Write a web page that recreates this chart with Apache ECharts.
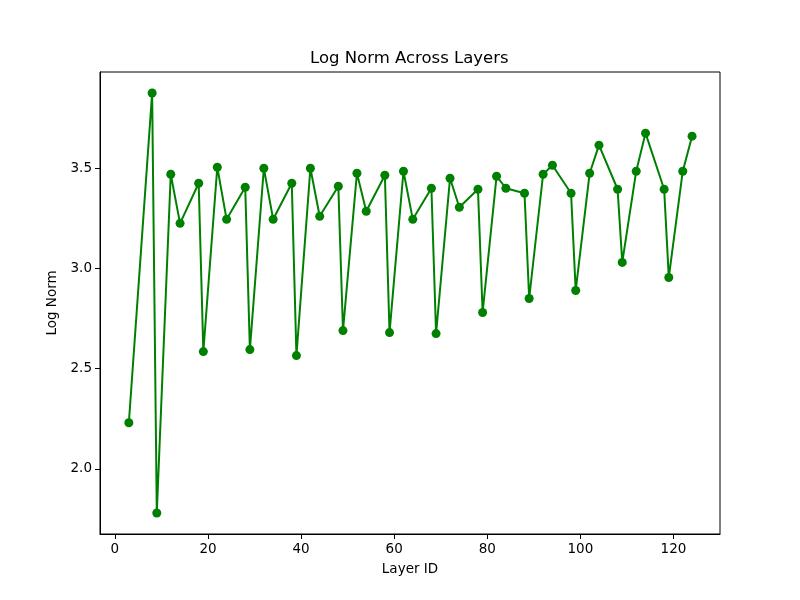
<!DOCTYPE html>
<html>
<head>
<meta charset="utf-8">
<script src="https://cdn.jsdelivr.net/npm/echarts@6/dist/echarts.min.js"></script>
<style>
  html, body { margin: 0; padding: 0; background: #fff; }
  #main { width: 800px; height: 600px; }
</style>
</head>
<body>
<div id="main"></div>
<script>
// layer ids and their log norm
const layerIds = [3, 8, 9, 12, 14, 18, 19, 22, 24, 28, 29, 32, 34, 38, 39, 42, 44, 48, 49,
  52, 54, 58, 59, 62, 64, 68, 69, 72, 74, 78, 79, 82, 84, 88, 89, 92, 94, 98, 99,
  102, 104, 108, 109, 112, 114, 118, 119, 122, 124];
const logNorms = [2.23, 3.875, 1.78, 3.47, 3.225, 3.425, 2.585, 3.505, 3.245, 3.405, 2.595,
  3.5, 3.245, 3.425, 2.565, 3.5, 3.26, 3.41, 2.69, 3.475, 3.285, 3.465, 2.68, 3.485, 3.245,
  3.4, 2.675, 3.45, 3.305, 3.395, 2.78, 3.46, 3.4, 3.375, 2.85, 3.47, 3.515, 3.375, 2.89,
  3.475, 3.615, 3.395, 3.03, 3.485, 3.675, 3.395, 2.955, 3.485, 3.66];
const xTicks = [0, 20, 40, 60, 80, 100, 120];
const yTicks = [2.0, 2.5, 3.0, 3.5];

const font = 'DejaVu Sans';
const chart = echarts.init(document.getElementById('main'));

const points = layerIds.map((id, i) => [id, logNorms[i]]);

const option = {
  animation: false,
  backgroundColor: '#fff',
  title: {
    text: 'Log Norm Across Layers',
    left: 310,
    top: 50,
    padding: 0,
    textStyle: { fontFamily: font, fontSize: 16.5, fontWeight: 'normal', color: '#000' },
  },
  grid: {
    left: 100,
    right: 80,
    top: 72,
    bottom: 66,
    show: true,
    borderColor: '#000',
    borderWidth: 1,
    backgroundColor: 'transparent',
  },
  xAxis: {
    type: 'value',
    min: -3.2,
    max: 130.0,
    name: 'Layer ID',
    nameLocation: 'middle',
    nameGap: 28,
    nameTextStyle: { fontFamily: font, fontSize: 13.5, color: '#000' },
    axisLine: { show: true, onZero: false, lineStyle: { color: '#000', width: 1 } },
    axisTick: { show: true, length: 5, customValues: xTicks, lineStyle: { color: '#000' } },
    axisLabel: {
      customValues: xTicks,
      margin: 8,
      fontFamily: font,
      fontSize: 13.5,
      color: '#000',
      formatter: (v) => String(v),
    },
    splitLine: { show: false },
  },
  yAxis: {
    type: 'value',
    min: 1.675,
    max: 3.98,
    name: 'Log Norm',
    nameLocation: 'middle',
    nameGap: 34,
    nameTextStyle: { fontFamily: font, fontSize: 13.5, color: '#000' },
    axisLine: { show: true, onZero: false, lineStyle: { color: '#000', width: 1 } },
    axisTick: { show: true, length: 5, customValues: yTicks, lineStyle: { color: '#000' } },
    axisLabel: {
      customValues: yTicks,
      margin: 8,
      fontFamily: font,
      fontSize: 13.5,
      color: '#000',
      formatter: (v) => v.toFixed(1),
    },
    splitLine: { show: false },
  },
  series: [
    {
      type: 'line',
      data: points,
      symbol: 'circle',
      symbolSize: 9,
      showAllSymbol: true,
      lineStyle: { color: '#008000', width: 2 },
      itemStyle: { color: '#008000', borderWidth: 0 },
      emphasis: { disabled: true },
    },
  ],
};

chart.setOption(option);
</script>
</body>
</html>
